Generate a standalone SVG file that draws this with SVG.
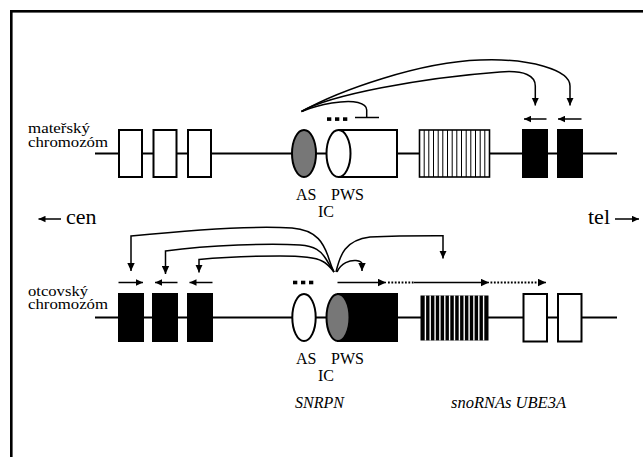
<svg xmlns="http://www.w3.org/2000/svg" width="643" height="457" viewBox="0 0 643 457">
<style>
.chr{stroke:#000;stroke-width:2;fill:none}
.box{stroke:#000;stroke-width:2;fill:#fff}
.blk{stroke:#000;stroke-width:2;fill:#000}
.gray{fill:#777;stroke:#000;stroke-width:2}
.wh{fill:#fff;stroke:#000;stroke-width:2}
.con{stroke:#000;stroke-width:1.5;fill:none}
.dot{stroke:#000;stroke-width:2.2;fill:none;stroke-dasharray:1.8 1.6}
text{font-family:'Times New Roman','Liberation Serif','DejaVu Serif',serif;fill:#000}
</style>
<defs>
<marker id="ah" markerUnits="userSpaceOnUse" markerWidth="9" markerHeight="8" refX="8" refY="4" orient="auto"><path d="M0,0.3 L8,4 L0,7.7 z" fill="#000"/></marker>
<marker id="ahs" markerUnits="userSpaceOnUse" markerWidth="8" markerHeight="7" refX="7" refY="3.5" orient="auto"><path d="M0,0.3 L7,3.5 L0,6.7 z" fill="#000"/></marker>
</defs>
<rect x="11.3" y="11.3" width="700" height="500" fill="none" stroke="#000" stroke-width="2.6"/>

<g id="maternal">
<line class="chr" x1="95" y1="153.5" x2="617" y2="153.5"/>
<text x="28" y="133.3" font-size="14.5" textLength="62" lengthAdjust="spacingAndGlyphs">mateřský</text>
<text x="28" y="146.7" font-size="14.5" textLength="80" lengthAdjust="spacingAndGlyphs">chromozóm</text>
</g>
<g id="m-box1"><rect class="box" x="119" y="130" width="23" height="47"/></g>
<g id="m-box2"><rect class="box" x="153.5" y="130" width="23" height="47"/></g>
<g id="m-box3"><rect class="box" x="188" y="130" width="23" height="47"/></g>
<g id="m-as"><ellipse class="gray" cx="304" cy="153.5" rx="12" ry="23.5"/></g>
<g id="m-pws">
<path class="wh" d="M338.5,130 H397 V177 H338.5"/>
<ellipse class="wh" cx="338.5" cy="153.5" rx="12" ry="23.5"/>
<rect x="327" y="117.3" width="4.3" height="3.6"/><rect x="335" y="117.3" width="4.3" height="3.6"/><rect x="343" y="117.3" width="4.3" height="3.6"/>
</g>
<g id="m-sno">
<rect x="419.5" y="130" width="70" height="47" fill="#fff" stroke="#000" stroke-width="1.6"/>
<path stroke="#000" stroke-width="1" d="M424.2,130V177M428.8,130V177M433.5,130V177M438.2,130V177M442.8,130V177M447.5,130V177M452.2,130V177M456.8,130V177M461.5,130V177M466.2,130V177M470.8,130V177M475.5,130V177M480.2,130V177M484.8,130V177"/>
</g>
<g id="m-ube1"><rect class="blk" x="523" y="130" width="24" height="47"/></g>
<g id="m-ube2"><rect class="blk" x="558" y="130" width="24" height="47"/></g>
<g id="m-labels" font-size="16">
<text x="296" y="200">AS</text>
<text x="331" y="200">PWS</text>
<text x="318" y="216.5">IC</text>
</g>

<g id="orientation">
<line class="con" x1="61" y1="219" x2="38.5" y2="219" marker-end="url(#ahs)"/>
<text x="66" y="223.5" font-size="22">cen</text>
<text x="588" y="223.5" font-size="22">tel</text>
<line class="con" x1="615" y1="219" x2="639" y2="219" marker-end="url(#ahs)"/>
</g>

<g id="paternal">
<line class="chr" x1="95" y1="317.5" x2="617" y2="317.5"/>
<text x="28" y="295.5" font-size="14.5" textLength="60" lengthAdjust="spacingAndGlyphs">otcovský</text>
<text x="28" y="308.7" font-size="14.5" textLength="80" lengthAdjust="spacingAndGlyphs">chromozóm</text>
</g>
<g id="p-box1"><rect class="blk" x="119" y="294" width="24" height="47"/></g>
<g id="p-box2"><rect class="blk" x="153" y="294" width="24" height="47"/></g>
<g id="p-box3"><rect class="blk" x="188" y="294" width="24" height="47"/></g>
<g id="p-as">
<ellipse class="wh" cx="304" cy="317.5" rx="11.7" ry="23.5"/>
<rect x="293" y="280.7" width="4.3" height="3.6"/><rect x="301" y="280.7" width="4.3" height="3.6"/><rect x="309" y="280.7" width="4.3" height="3.6"/>
</g>
<g id="p-pws">
<path class="blk" d="M338,294 H397 V341 H338 z"/>
<ellipse class="gray" cx="338" cy="317.5" rx="11.5" ry="23.5"/>
</g>
<g id="p-sno">
<rect x="420.5" y="295.5" width="68" height="45" fill="#000"/>
<path stroke="#fff" stroke-width="1.4" d="M425.4,295.5V340.5M430.2,295.5V340.5M435.1,295.5V340.5M439.9,295.5V340.5M444.8,295.5V340.5M449.6,295.5V340.5M454.5,295.5V340.5M459.4,295.5V340.5M464.2,295.5V340.5M469.1,295.5V340.5M473.9,295.5V340.5M478.8,295.5V340.5M483.6,295.5V340.5"/>
</g>
<g id="p-ube1"><rect class="box" x="523.5" y="294" width="23.5" height="47.5"/></g>
<g id="p-ube2"><rect class="box" x="558" y="294" width="23.5" height="47.5"/></g>
<g id="p-labels" font-size="16">
<text x="296" y="364">AS</text>
<text x="331" y="364">PWS</text>
<text x="318" y="380.5">IC</text>
<text x="295" y="408" font-style="italic">SNRPN</text>
<text x="451" y="408" font-style="italic" textLength="115" lengthAdjust="spacingAndGlyphs">snoRNAs UBE3A</text>
</g>

<g id="connectors">
<path class="con" d="M301.5,111.5 C320,104 345,99.5 358,102.5 C364,104 366.7,106 366.7,110 V117.3"/>
<line class="con" x1="355" y1="117.5" x2="379" y2="117.5"/>
<path class="con" d="M301.5,111.5 C330,95 420,78 500,72 C525,70 535.3,76 535.3,86 V105.5" marker-end="url(#ah)"/>
<path class="con" d="M301.5,111.5 C340,90 420,62 480,60 C530,58 570,70 570,86 V105.5" marker-end="url(#ah)"/>
<line class="con" x1="546.5" y1="119" x2="524" y2="119" marker-end="url(#ahs)"/>
<line class="con" x1="581.5" y1="119" x2="558" y2="119" marker-end="url(#ahs)"/>
<path class="con" d="M334,272 C331,266 330,262 328,256 C324,245 318,230 292,228 C260,226 200,229 131,236 V271" marker-end="url(#ah)"/>
<path class="con" d="M334,272 C331,267 329,264 326,259 C321,251 315,246 300,245 C270,243 210,245 165.5,251 V274" marker-end="url(#ah)"/>
<path class="con" d="M334,272 C331,268 328,264 322,261 C315,257 300,256 280,256 C250,256 225,257 199,259.5 V272.5" marker-end="url(#ah)"/>
<path class="con" d="M336,272 C340,255 345,240 370,237 C400,235.5 430,235.7 443,235.7 V258.5" marker-end="url(#ah)"/>
<path class="con" d="M337,272 C341,263 350,260 356,260.5 C360,261 362,262.5 362,264 V271" marker-end="url(#ah)"/>
<line class="con" x1="118.5" y1="282.5" x2="143" y2="282.5" marker-end="url(#ahs)"/>
<line class="con" x1="177.5" y1="282.5" x2="155" y2="282.5" marker-end="url(#ahs)"/>
<line class="con" x1="212.5" y1="282.5" x2="189.5" y2="282.5" marker-end="url(#ahs)"/>
<line class="con" x1="337.5" y1="282.5" x2="386" y2="282.5" marker-end="url(#ah)"/>
<line class="dot" x1="388" y1="282.5" x2="414" y2="282.5"/>
<line class="con" x1="414" y1="282.5" x2="489" y2="282.5" marker-end="url(#ah)"/>
<line class="dot" x1="490.5" y1="282.5" x2="539" y2="282.5"/>
<line class="con" x1="539" y1="282.5" x2="546" y2="282.5" marker-end="url(#ah)"/>
</g>
</svg>
